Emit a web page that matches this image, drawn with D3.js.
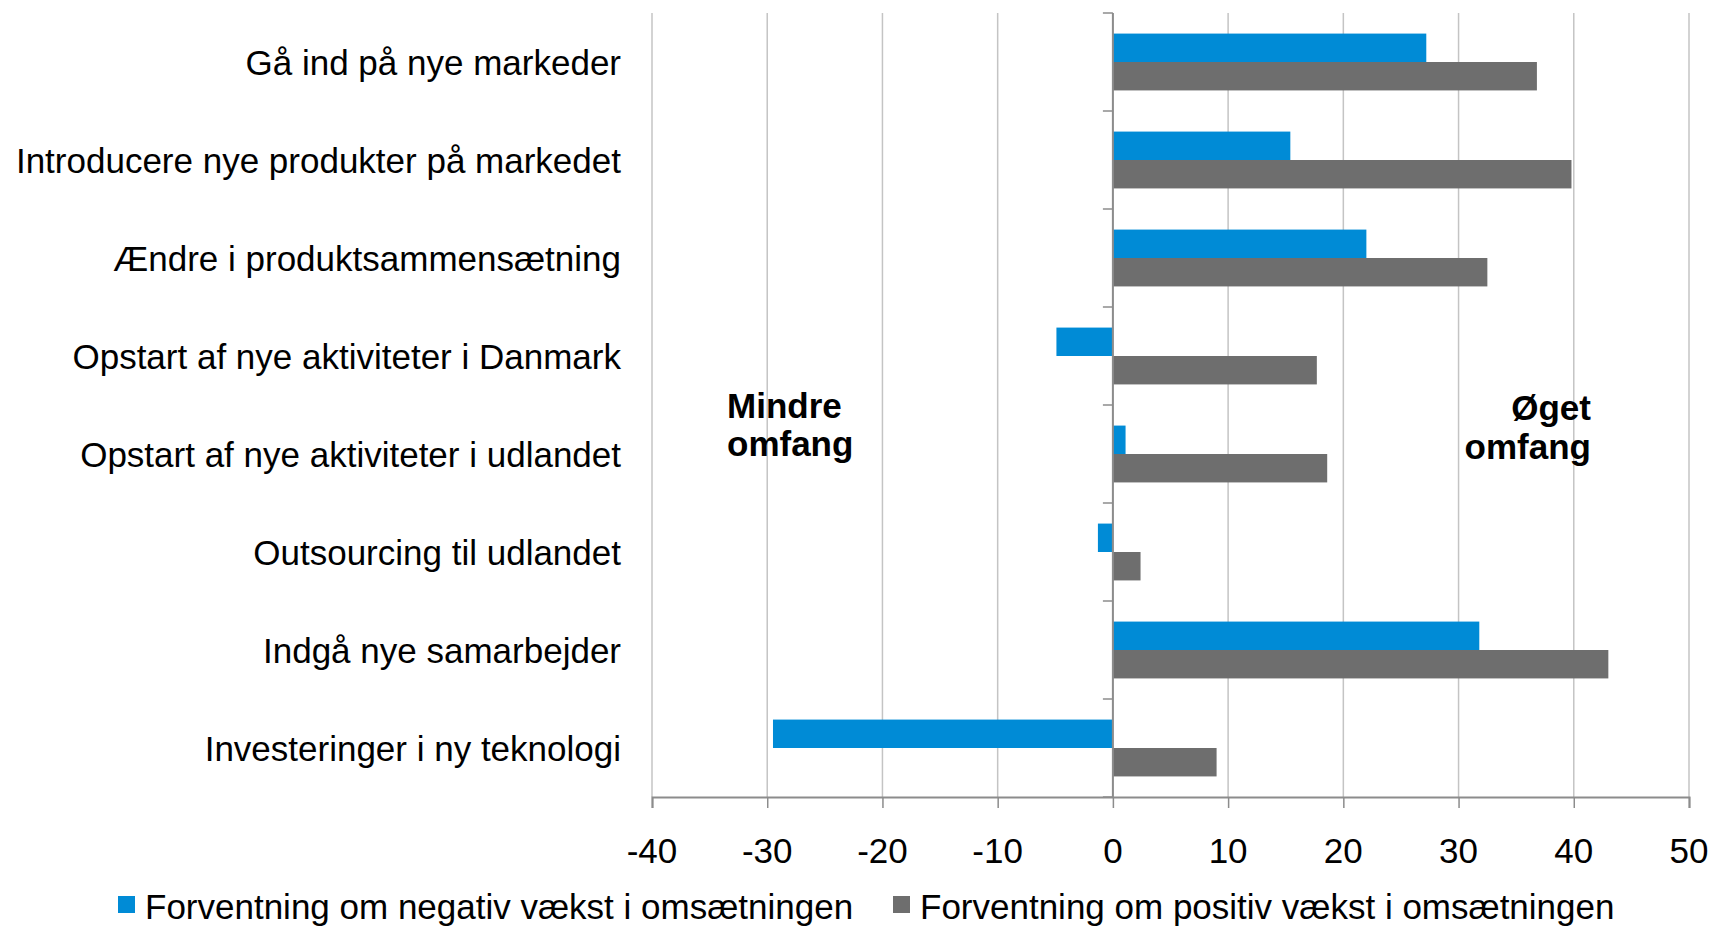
<!DOCTYPE html>
<html>
<head>
<meta charset="utf-8">
<script src="https://cdn.jsdelivr.net/npm/d3@7"></script>
<style>
  body { margin: 0; background: #fff; }
  svg { display: block; font-family: "Liberation Sans", Arial, sans-serif; }
</style>
</head>
<body>
<svg width="1713" height="928"></svg>
<script>
var categories = [
  "Gå ind på nye markeder",
  "Introducere nye produkter på markedet",
  "Ændre i produktsammensætning",
  "Opstart af nye aktiviteter i Danmark",
  "Opstart af nye aktiviteter i udlandet",
  "Outsourcing til udlandet",
  "Indgå nye samarbejder",
  "Investeringer i ny teknologi"
];
var seriesNames = [
  "Forventning om negativ vækst i omsætningen",
  "Forventning om positiv vækst i omsætningen"
];
var negativeValues = [27.2, 15.4, 22.0, -4.9, 1.1, -1.3, 31.8, -29.5];
var positiveValues = [36.8, 39.8, 32.5, 17.7, 18.6, 2.4, 43.0, 9.0];
var xTicks = [-40, -30, -20, -10, 0, 10, 20, 30, 40, 50];
var colors = ["#008bd6", "#6e6e6e"];

var svg = d3.select("svg"),
    margin = {top: 13, left: 652, right: 24, bottom: 131},
    width = 1713 - margin.left - margin.right,
    height = 928 - margin.top - margin.bottom,
    g = svg.append("g").attr("transform", "translate(" + margin.left + "," + margin.top + ")");

var x = d3.scaleLinear().domain([-40, 50]).range([0, width]);

var y0 = d3.scaleBand()
    .domain(categories)
    .range([0, height])
    .paddingInner(0.42)
    .paddingOuter(0.21);

var y1 = d3.scaleBand()
    .domain(seriesNames)
    .range([0, y0.bandwidth()]);

var rows = categories.map(function(c, i) {
  return {cat: c, vals: [negativeValues[i], positiveValues[i]]};
});

// gridlines
g.append("g").selectAll("line")
  .data(xTicks)
  .enter().append("line")
    .attr("x1", function(d) { return x(d); })
    .attr("x2", function(d) { return x(d); })
    .attr("y1", 0)
    .attr("y2", height)
    .attr("stroke", "#c4c4c4")
    .attr("stroke-width", 1.5);

// bars
var grp = g.append("g").selectAll("g")
  .data(rows)
  .enter().append("g")
    .attr("transform", function(d) { return "translate(0," + y0(d.cat) + ")"; });

grp.selectAll("rect")
  .data(function(d) { return d.vals.map(function(v, j) { return {v: v, s: seriesNames[j], j: j}; }); })
  .enter().append("rect")
    .attr("x", function(d) { return x(Math.min(0, d.v)); })
    .attr("width", function(d) { return Math.abs(x(d.v) - x(0)); })
    .attr("y", function(d) { return y1(d.s); })
    .attr("height", y1.bandwidth())
    .attr("fill", function(d) { return colors[d.j]; });

// x axis
var xAxis = g.append("g")
    .attr("transform", "translate(0," + height + ")")
    .call(d3.axisBottom(x).tickValues(xTicks).tickSize(11).tickFormat(""));
xAxis.select(".domain").attr("stroke", "#8c8c8c").attr("stroke-width", 2);
xAxis.selectAll(".tick line").attr("stroke", "#8c8c8c").attr("stroke-width", 1.5);

g.append("g").selectAll("text")
  .data(xTicks)
  .enter().append("text")
    .attr("x", function(d) { return x(d); })
    .attr("y", height + 66)
    .attr("text-anchor", "middle")
    .attr("font-size", 35)
    .attr("fill", "#000")
    .text(function(d) { return d; });

// y axis at zero
var step = y0.step(),
    bounds = d3.range(categories.length + 1).map(function(i) { return i * step; });
g.append("line")
    .attr("x1", x(0)).attr("x2", x(0))
    .attr("y1", 0).attr("y2", height)
    .attr("stroke", "#8c8c8c").attr("stroke-width", 2);
g.append("g").selectAll("line")
  .data(bounds)
  .enter().append("line")
    .attr("x1", x(0) - 10).attr("x2", x(0))
    .attr("y1", function(d) { return d; })
    .attr("y2", function(d) { return d; })
    .attr("stroke", "#8c8c8c").attr("stroke-width", 1.5);

// category labels
svg.append("g").selectAll("text")
  .data(categories)
  .enter().append("text")
    .attr("x", 621)
    .attr("y", function(d) { return margin.top + y0(d) + y0.bandwidth() / 2 + 12.5; })
    .attr("text-anchor", "end")
    .attr("font-size", 35)
    .attr("fill", "#000")
    .text(function(d) { return d; });

// annotations
var ann = svg.append("g").attr("font-weight", "bold").attr("font-size", 35).attr("fill", "#000");
ann.append("text").attr("x", 727).attr("y", 418).text("Mindre");
ann.append("text").attr("x", 727).attr("y", 456).text("omfang");
ann.append("text").attr("x", 1591).attr("y", 420).attr("text-anchor", "end").text("Øget");
ann.append("text").attr("x", 1591).attr("y", 459).attr("text-anchor", "end").text("omfang");

// legend
var legX = [118, 893];
var leg = svg.append("g").selectAll("g")
  .data(seriesNames)
  .enter().append("g")
    .attr("transform", function(d, i) { return "translate(" + legX[i] + ",896)"; });
leg.append("rect")
    .attr("width", 17).attr("height", 17)
    .attr("fill", function(d, i) { return colors[i]; });
leg.append("text")
    .attr("x", 27).attr("y", 23)
    .attr("font-size", 35)
    .attr("fill", "#000")
    .text(function(d) { return d; });
</script>
</body>
</html>
